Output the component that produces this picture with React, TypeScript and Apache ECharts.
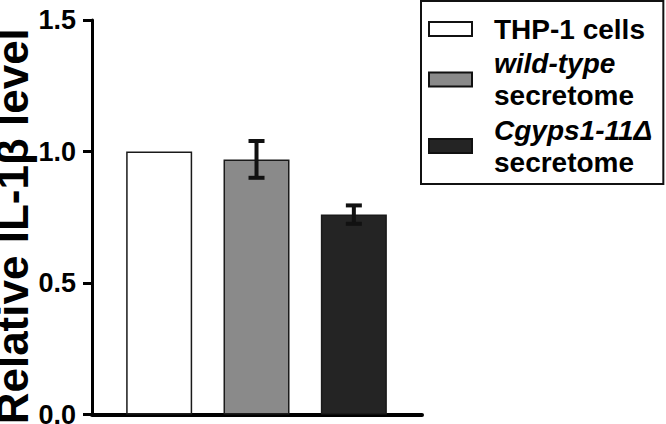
import React, { useEffect, useRef } from "react";
import * as echarts from "echarts";

const categories = ["THP-1 cells", "wild-type secretome", "Cgyps1-11Δ secretome"];
const positions = [1, 2, 3];
const values = [1.0, 0.97, 0.76];
const errors = [0, 0.07, 0.035];
const colors = ["#ffffff", "#8a8a8a", "#242424"];
const legendLabels: Record<string, string> = {
  "THP-1 cells": "{n|THP-1 cells}",
  "wild-type secretome": "{i|wild-type}\n{n|secretome}",
  "Cgyps1-11Δ secretome": "{i|Cgyps1-11Δ}\n{n|secretome}",
};
const yMin = 0;
const yMax = 1.5;
const yInterval = 0.5;

const FONT = "'Liberation Sans', Arial, sans-serif";

export default function App() {
  const ref = useRef<HTMLDivElement>(null);
  useEffect(() => {
    if (!ref.current) return;
    const chart = echarts.init(ref.current, undefined, { renderer: "svg" });

    const barSeries = categories.map((name, i) => ({
      name,
      type: "bar",
      data: [[positions[i], values[i]]],
      barWidth: 66,
      barGap: "-100%",
      itemStyle: { color: colors[i], borderColor: "#1a1a1a", borderWidth: 1.5 },
      z: 1,
    }));

    const errData = positions
      .map((p, i) => [p, values[i] - errors[i], values[i] + errors[i], errors[i]])
      .filter((d) => d[3] > 0);

    const option: any = {
      animation: false,
      backgroundColor: "#ffffff",
      grid: { left: 92, right: 244, top: 20, bottom: 9.5, containLabel: false, outerBoundsMode: "none" },
      legend: {
        orient: "vertical",
        left: 421,
        top: 1,
        padding: [14, 11, 8, 7],
        itemGap: 6.5,
        itemWidth: 43,
        itemHeight: 14,
        icon: "rect",
        selectedMode: false,
        borderColor: "#111",
        borderWidth: 2,
        data: categories,
        itemStyle: { borderColor: "#111", borderWidth: 2 },
        formatter: (name: string) => legendLabels[name],
        textStyle: {
          padding: [0, 0, 0, 17],
          rich: {
            n: { fontFamily: FONT, fontWeight: "bold", fontSize: 28, lineHeight: 32, color: "#000" },
            i: {
              fontFamily: FONT,
              fontWeight: "bold",
              fontStyle: "italic",
              fontSize: 28,
              lineHeight: 32,
              color: "#000",
            },
          },
        },
      },
      xAxis: {
        type: "value",
        min: 0.31,
        max: 3.7,
        axisLine: { show: true, lineStyle: { color: "#000", width: 4 } },
        axisTick: { show: false },
        axisLabel: { show: false },
        splitLine: { show: false },
      },
      yAxis: {
        type: "value",
        min: yMin,
        max: yMax,
        interval: yInterval,
        name: "Relative IL-1β level",
        nameLocation: "middle",
        nameRotate: 90,
        nameGap: 53,
        nameTextStyle: {
          fontFamily: FONT,
          fontWeight: "bold",
          fontSize: 44,
          color: "#000",
          padding: [0, 18, 0, 0],
        },
        axisLine: { show: true, lineStyle: { color: "#000", width: 3 } },
        axisTick: { show: true, length: 9, lineStyle: { color: "#000", width: 3 } },
        axisLabel: {
          margin: 16,
          fontFamily: FONT,
          fontWeight: "bold",
          fontSize: 27,
          color: "#000",
          formatter: (v: number) => v.toFixed(1),
        },
        splitLine: { show: false },
      },
      series: [
        ...barSeries,
        {
          type: "custom",
          name: "error",
          data: errData,
          z: 5,
          renderItem: (params: any, api: any) => {
            const x = api.value(0);
            const lo = api.coord([x, api.value(1)]);
            const hi = api.coord([x, api.value(2)]);
            const hw = 8;
            const style = { stroke: "#111", lineWidth: 4 };
            return {
              type: "group",
              children: [
                { type: "line", shape: { x1: lo[0], y1: lo[1], x2: hi[0], y2: hi[1] }, style },
                { type: "line", shape: { x1: hi[0] - hw, y1: hi[1], x2: hi[0] + hw, y2: hi[1] }, style },
                { type: "line", shape: { x1: lo[0] - hw, y1: lo[1], x2: lo[0] + hw, y2: lo[1] }, style },
              ],
            };
          },
        },
      ],
    };
    chart.setOption(option);
    return () => chart.dispose();
  }, []);

  return (
    <div
      ref={ref}
      style={{ position: "fixed", left: 0, top: 0, width: 666, height: 424, background: "#fff" }}
    />
  );
}
